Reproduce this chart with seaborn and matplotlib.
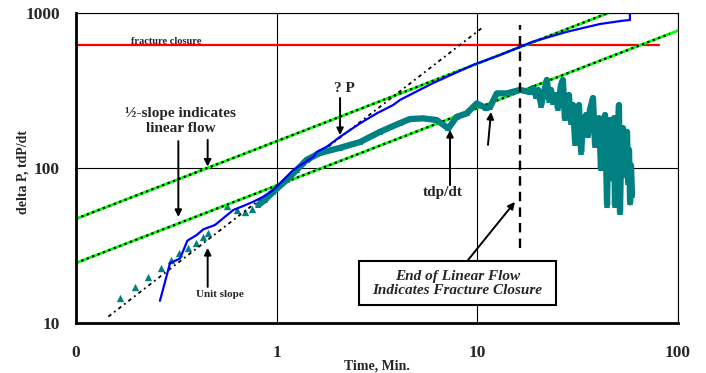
import matplotlib
matplotlib.use("Agg")
import matplotlib.pyplot as plt
from matplotlib.patches import Rectangle
from matplotlib.ticker import NullLocator
import seaborn as sns

# ---- data -------------------------------------------------------------
# delta P (psi) versus shut-in time (min)
dp_time = [0.262, 0.294, 0.330, 0.359, 0.400, 0.431, 0.493, 0.553, 0.608, 0.682,
           0.765, 0.858, 0.962, 1.079, 1.21, 1.357, 1.522, 1.583, 1.775, 2.07,
           2.60, 3.15, 3.81, 4.12, 6.01, 9.51, 12.97, 18.9, 28.0, 40.8,
           53.2, 57.6, 57.6]
dp_value = [13.9, 24.3, 26.1, 34.0, 37.0, 40.2, 42.9, 48.5, 53.6, 56.9,
            60.6, 65.3, 72.1, 83.7, 97.1, 107, 118, 127, 137, 159,
            194, 225, 255, 275, 353, 462, 536, 653, 757, 849,
            892, 901, 1020]

# t dP/dt, early isolated points
deriv_early_time = [0.166, 0.197, 0.229, 0.265, 0.297, 0.327, 0.363, 0.396, 0.428,
                    0.456, 0.564, 0.632, 0.695, 0.751]
deriv_early_value = [14.4, 17.0, 19.9, 22.5, 25.5, 28.2, 30.6, 33.0, 35.7,
                     37.9, 56.9, 53.6, 52.2, 54.1]

# t dP/dt, continuous record
deriv_time = [0.810, 0.875, 0.959, 1.122, 1.259, 1.411, 1.644, 2.07, 2.60, 3.27,
              4.12, 4.62, 5.36, 6.27, 7.17, 7.89, 8.85, 9.93, 11.1, 11.6,
              12.5, 14.0, 16.3, 18.3, 18.9, 19.6, 20.1, 20.8, 21.5, 22.2,
              22.8, 23.3, 23.8, 24.7, 25.2, 26.1, 26.7, 27.3, 28.0, 28.6,
              29.3, 30.0, 30.7, 31.4, 32.1, 32.9, 33.6, 34.8, 35.6, 36.4,
              37.7, 38.6, 39.5, 40.4, 41.3, 42.3, 43.3, 44.3, 44.8, 45.8,
              46.4, 47.4, 48.0, 48.5, 49.7, 50.8, 51.4, 52.0, 53.2, 53.8,
              55.1, 55.7, 56.4, 57.0, 57.7, 58.3, 59.0]
deriv_value = [57.7, 62.2, 70.0, 83.7, 97.1, 113, 125, 135, 147, 171,
               195, 207, 209, 204, 180, 214, 225, 261, 243, 249,
               303, 303, 319, 309, 328, 291, 319, 255, 309, 370,
               275, 319, 267, 296, 244, 343, 370, 210, 275, 296,
               198, 255, 145, 189, 255, 127, 189, 220, 163, 237,
               283, 141, 176, 210, 100, 176, 220, 58, 131, 204,
               86, 152, 210, 58, 131, 255, 52, 113, 181, 90,
               152, 171, 81, 131, 60, 104, 67]

# straight-line trends (end points)
half_upper_time = [0.1, 51]
half_upper_value = [47, 1065]
half_lower_time = [0.1, 100]
half_lower_value = [24.4, 770]
unit_time = [0.145, 10.7]
unit_value = [11.0, 813]

closure_pressure = 620
closure_time = 16.4
x_ticks = [0.1, 1, 10, 100]
x_tick_labels = ["0", "1", "10", "100"]
y_ticks = [10, 100, 1000]
y_tick_labels = ["10", "100", "1000"]

# ---- style ------------------------------------------------------------
sns.set_style("white")
plt.rcParams["font.family"] = ["Liberation Serif", "DejaVu Serif"]
plt.rcParams["font.weight"] = "bold"

fig = plt.figure(figsize=(7.06, 3.73), dpi=100)
ax = fig.add_axes([76 / 706, 1 - 323 / 373, 602 / 706, 310 / 373])
ax.set_xscale("log")
ax.set_yscale("log")

TEAL = "#008080"
GREEN = "#00FF00"
dots = (0, (1, 1.6))

# closure pressure
sns.lineplot(x=[0.1, 80], y=[closure_pressure] * 2, color="#FF0000", lw=1.6, ax=ax)

# half-slope trends (green) with dotted overlay
sns.lineplot(x=half_upper_time, y=half_upper_value, color=GREEN, lw=2.0, ax=ax)
sns.lineplot(x=[half_upper_time[0], 49], y=[half_upper_value[0], 1045],
             color="black", lw=1.6, linestyle=dots, ax=ax)
sns.lineplot(x=half_lower_time, y=half_lower_value, color=GREEN, lw=2.0, ax=ax)
sns.lineplot(x=[half_lower_time[0], 91], y=[half_lower_value[0], 734],
             color="black", lw=1.6, linestyle=dots, ax=ax)

# unit slope trend
sns.lineplot(x=unit_time, y=unit_value, color="black", lw=1.3,
             linestyle=(0, (2, 2, 1, 2)), ax=ax)

# derivative
sns.lineplot(x=deriv_time, y=deriv_value, color=TEAL, lw=4.5, sort=False,
             estimator=None, marker="^", markersize=5, markeredgewidth=0, ax=ax)
sns.scatterplot(x=deriv_early_time, y=deriv_early_value, color=TEAL, marker="^",
                s=28, linewidth=0, ax=ax)

# pressure change
sns.lineplot(x=dp_time, y=dp_value, color="#0000FF", lw=1.6, sort=False,
             estimator=None, ax=ax)

# end of linear flow
ax.plot([closure_time, closure_time], [30.5, 837], color="black", lw=1.7,
        linestyle=(0, (4, 2.6)))

# ---- axes -------------------------------------------------------------
ax.set_xlim(0.1, 100)
ax.set_ylim(10, 1000)
ax.set_xticks(x_ticks)
ax.set_xticklabels(x_tick_labels)
ax.set_yticks(y_ticks)
ax.set_yticklabels(y_tick_labels)
ax.xaxis.set_minor_locator(NullLocator())
ax.yaxis.set_minor_locator(NullLocator())
ax.grid(True, which="major", color="black", lw=0.8)
ax.tick_params(axis="both", direction="inout", length=7, width=1.6,
               labelsize=12.5, color="black")
ax.tick_params(axis="x", pad=12)
ax.tick_params(axis="y", pad=8)
for lbl in ax.get_xticklabels() + ax.get_yticklabels():
    lbl.set_fontweight("bold")
for side in ("left", "bottom"):
    ax.spines[side].set_linewidth(2.0)
    ax.spines[side].set_color("black")
for side in ("top", "right"):
    ax.spines[side].set_linewidth(0.8)
    ax.spines[side].set_color("black")

ax.set_xlabel("Time, Min.", fontsize=10, fontweight="bold")
ax.set_ylabel("delta P, tdP/dt", fontsize=10, fontweight="bold")
ax.xaxis.set_label_coords(0.5, -0.117)
ax.yaxis.set_label_coords(-0.077, 0.487)

# ---- annotations ------------------------------------------------------
arrow = dict(arrowstyle="-|>", color="black", lw=1.4, mutation_scale=10,
             shrinkA=0, shrinkB=0)

ax.text(0.281, 659, "fracture closure", fontsize=7.5, fontweight="bold",
        ha="center", va="center")
ax.text(0.3336, 201, "½-slope indicates\nlinear flow", fontsize=11,
        fontweight="bold", ha="center", va="center", linespacing=1.25)
ax.annotate("", xy=(0.453, 102), xytext=(0.453, 152), arrowprops=arrow)
ax.annotate("", xy=(0.3236, 48.3), xytext=(0.3236, 149), arrowprops=arrow)

ax.text(0.522, 15.2, "Unit slope", fontsize=8, fontweight="bold",
        ha="center", va="center")
ax.annotate("", xy=(0.453, 30.5), xytext=(0.453, 17.1), arrowprops=arrow)

ax.text(2.17, 328, "? P", fontsize=11, fontweight="bold", ha="center", va="center")
ax.annotate("", xy=(2.07, 163), xytext=(2.07, 283), arrowprops=arrow)

ax.text(6.74, 69, "tdp/dt", fontsize=11, fontweight="bold", ha="center", va="center")
ax.annotate("", xy=(7.31, 176), xytext=(7.31, 77.6), arrowprops=arrow)
ax.annotate("", xy=(11.7, 230), xytext=(11.3, 141), arrowprops=arrow)

ax.annotate("", xy=(15.4, 60.4), xytext=(8.99, 25.5), arrowprops=arrow)
ax.add_patch(Rectangle((0.470, 0.058), 0.327, 0.143, transform=ax.transAxes,
                       facecolor="white", edgecolor="black", lw=1.5, zorder=5))
ax.text(0.6335, 0.129, "End of Linear Flow\nIndicates Fracture Closure",
        transform=ax.transAxes, fontsize=11, fontweight="bold", style="italic",
        ha="center", va="center", linespacing=1.1, zorder=6)

fig.savefig("out.png", dpi=100)
